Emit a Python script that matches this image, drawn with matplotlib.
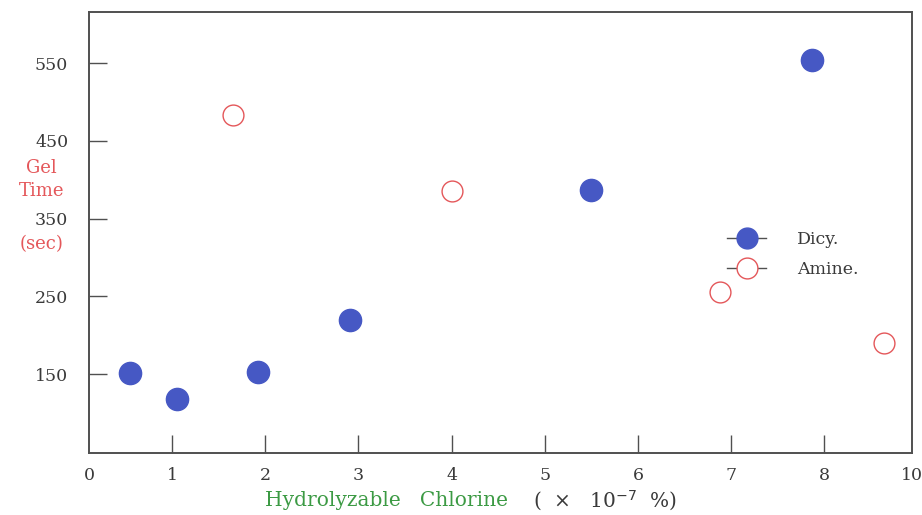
"""Gel time vs hydrolyzable chlorine, Dicy and Amine cured resins"""

import matplotlib
matplotlib.use('Agg')
import matplotlib.pyplot as plt
from matplotlib.lines import Line2D

plt.rcParams['font.family'] = ['DejaVu Serif', 'Liberation Serif']

# values
dicy_x = [0.55, 1.05, 1.92, 2.91, 5.50, 7.87]
dicy_y = [151, 118, 153, 220, 387, 554]
amine_x = [1.65, 4.00, 6.88, 8.64]
amine_y = [483, 386, 256, 190]

y_ticks = [150, 250, 350, 450, 550]
x_ticks = [1, 2, 3, 4, 5, 6, 7, 8]
x_ends = [0.107, 8.94]
x_end_labels = ['0', '10']

blue = '#4658c4'
red = '#e4575a'
green = '#3c9a44'
ink = '#505050'
txt = '#3a3a3a'

fig = plt.figure(figsize=(9.22, 5.15), dpi=100)
ax = fig.add_axes([0.0965, 0.1204, 0.8925, 0.8563])

ax.plot(dicy_x, dicy_y, 'o', ms=16, color=blue, mec=blue, ls='none')
ax.plot(amine_x, amine_y, 'o', ms=15, mfc='white', mec=red, mew=1.0, ls='none')

ax.set_xlim(x_ends)
ax.set_ylim(48.4, 615.6)

ax.set_yticks(y_ticks)
ax.set_xticks(x_ticks)
ax.set_xticks(x_ends, minor=True)
ax.set_xticklabels(x_end_labels, minor=True)
ax.tick_params(axis='both', which='major', direction='in', length=13, width=1.0,
               color=ink, labelcolor=txt, labelsize=12.5)
ax.tick_params(axis='x', which='minor', length=0, labelcolor=txt, labelsize=12.5)
ax.tick_params(axis='x', which='both', pad=10)
ax.tick_params(axis='y', pad=15)
for s in ax.spines.values():
    s.set_color(ink)
    s.set_linewidth(1.4)

# y label, split around the 350 tick label as in the original
fig.text(0.045, 0.652, 'Gel\nTime', color=red, fontsize=13, ha='center', va='center',
         linespacing=1.35)
fig.text(0.045, 0.527, '(sec)', color=red, fontsize=13, ha='center', va='center')

# x label: green words plus units
fig.text(0.287, 0.028, 'Hydrolyzable   Chlorine', color=green, fontsize=14.5,
         ha='left', va='center')
fig.text(0.578, 0.028, '(  \u00d7   10$^{-7}$  %)', color=txt, fontsize=14.5,
         ha='left', va='center')

handles = [
    Line2D([], [], color=ink, lw=1.0, marker='o', ms=15, mfc=blue, mec=blue),
    Line2D([], [], color=ink, lw=1.0, marker='o', ms=15, mfc='white', mec=red, mew=1.0),
]
ax.legend(handles, ['Dicy.', 'Amine.'], loc='upper left', bbox_to_anchor=(0.772, 0.581),
          bbox_transform=fig.transFigure, frameon=False, fontsize=12.5, handlelength=2.2,
          handletextpad=1.8, labelspacing=0.75, labelcolor=txt)

fig.savefig('out.png', dpi=100)
